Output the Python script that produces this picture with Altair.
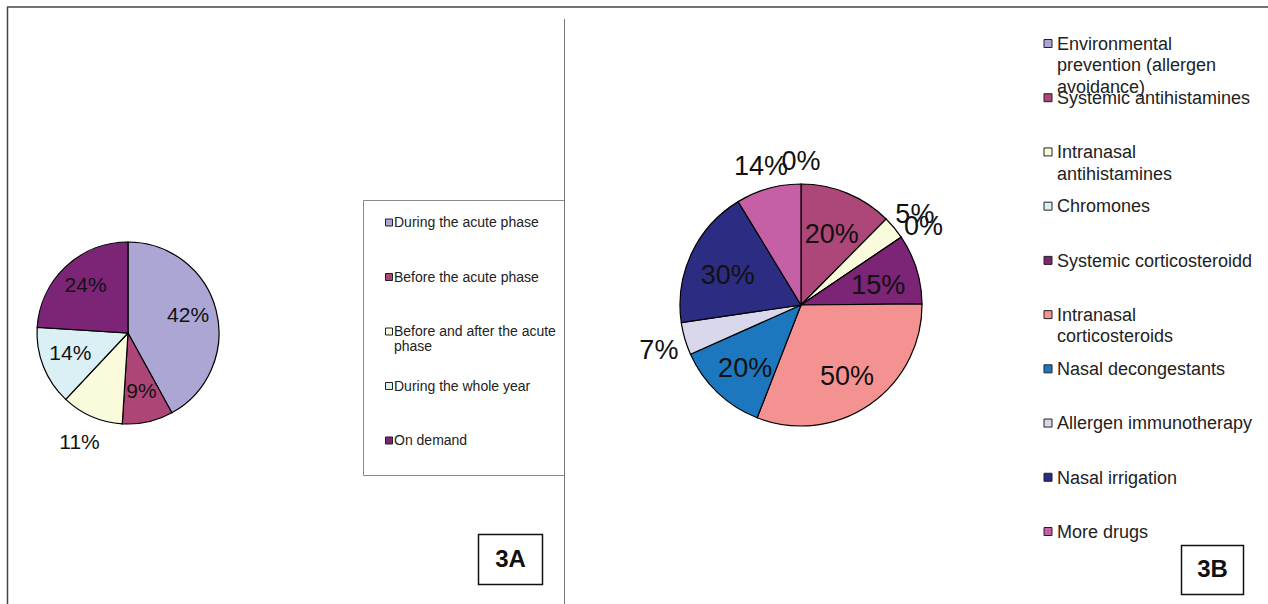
import altair as alt
import pandas as pd

# ---------------- data ----------------
cats_a = ["During the acute phase", "Before the acute phase",
          "Before and after the acute phase", "During the whole year", "On demand"]
legend_a = ["During the acute phase", "Before the acute phase",
            "Before and after the acute\nphase", "During the whole year", "On demand"]
vals_a = [42, 9, 11, 14, 24]
outside_a = [0, 0, 1, 0, 0]
colors_a = ["#ABA6D4", "#AE4577", "#FAFADC", "#DAF0F5", "#7C2475"]

cats_b = ["Environmental prevention (allergen avoidance)", "Systemic antihistamines",
          "Intranasal antihistamines", "Chromones", "Systemic corticosteroidd",
          "Intranasal corticosteroids", "Nasal decongestants", "Allergen immunotherapy",
          "Nasal irrigation", "More drugs"]
legend_b = ["Environmental\nprevention (allergen\navoidance)", "Systemic antihistamines",
            "Intranasal\nantihistamines", "Chromones", "Systemic corticosteroidd",
            "Intranasal\ncorticosteroids", "Nasal decongestants", "Allergen immunotherapy",
            "Nasal irrigation", "More drugs"]
vals_b = [0, 20, 5, 0, 15, 50, 20, 7, 30, 14]
outside_b = [1, 0, 1, 1, 0, 0, 0, 1, 0, 1]
colors_b = ["#ABA6D4", "#AD4779", "#FAFADC", "#DAF0F5", "#7C2475",
            "#F49292", "#1C77BF", "#D9D7EC", "#2C2D82", "#C660A6"]

FONT = "Liberation Sans"

df_a = pd.DataFrame({"cat": cats_a, "legend": legend_a, "value": vals_a,
                     "label": [f"{v}%" for v in vals_a], "outside": outside_a,
                     "row": list(range(len(cats_a)))})
df_b = pd.DataFrame({"cat": cats_b, "legend": legend_b, "value": vals_b,
                     "label": [f"{v}%" for v in vals_b], "outside": outside_b,
                     "row": list(range(len(cats_b)))})


def pie_group(df, cats, colors, cx, cy, r, r_in, r_out, fsize, lab_dy,
              sq_x, txt_x, row_range, sq_size, leg_font, leg_lh, leg_dy):
    color = alt.Color("cat:N", scale=alt.Scale(domain=cats, range=colors), legend=None)
    arcs = alt.Chart(df).mark_arc(radius=r, stroke="#000000", strokeWidth=1.2).encode(
        theta=alt.Theta("value:Q", stack=True), color=color, order=alt.Order("row:Q"),
        x=alt.value(cx), y=alt.value(cy))
    labels = alt.Chart(df).transform_window(
        cum="sum(value)", sort=[alt.SortField("row")]
    ).transform_joinaggregate(
        total="sum(value)"
    ).transform_calculate(
        ang="2 * PI * (datum.cum - datum.value / 2) / datum.total"
    ).mark_text(font=FONT, fontSize=fsize, color="#111111", dy=lab_dy,
                align="center", baseline="middle").encode(
        theta=alt.Theta("ang:Q", scale=None, stack=False),
        radius=alt.Radius("outside:Q", scale=alt.Scale(type="linear", domain=[0, 1],
                                                       range=[r_in, r_out], zero=False)),
        text="label:N", x=alt.value(cx), y=alt.value(cy))
    ypos = alt.Y("row:Q", scale=alt.Scale(domain=[0, len(cats) - 1], range=row_range),
                 axis=None)
    squares = alt.Chart(df).mark_square(size=sq_size, stroke="#222222", strokeWidth=1,
                                        opacity=1).encode(
        x=alt.value(sq_x), y=ypos, color=color)
    texts = alt.Chart(df).mark_text(font=FONT, fontSize=leg_font, color="#222222",
                                    align="left", baseline="alphabetic", dy=leg_dy,
                                    lineBreak="\n", lineHeight=leg_lh).encode(
        x=alt.value(txt_x), y=ypos, text="legend:N")
    return alt.layer(arcs, labels, squares, texts)


group_a = pie_group(df_a, cats_a, colors_a, 128, 333, 91, 62, 122, 21, -2,
                    389, 394, [222.5, 440.5], 49, 14, 15, 4.8)
group_b = pie_group(df_b, cats_b, colors_b, 801, 305, 121, 81, 148, 27, 5,
                    1048, 1057, [43.5, 531.5], 64, 18, 21.5, 6.3)

one = pd.DataFrame({"k": [0]})


def rule(x1, x2, y1, y2, color, width):
    return alt.Chart(one).mark_rule(color=color, strokeWidth=width).encode(
        x=alt.value(x1), x2=alt.value(x2), y=alt.value(y1), y2=alt.value(y2))


def box(x1, x2, y1, y2, color, width):
    return alt.Chart(one).mark_rect(fill="white", stroke=color, strokeWidth=width).encode(
        x=alt.value(x1), x2=alt.value(x2), y=alt.value(y1), y2=alt.value(y2))


def tag(txt, x, y):
    return alt.Chart(one).mark_text(font=FONT, fontSize=24, fontWeight="bold",
                                    color="#111111", align="center",
                                    baseline="middle").encode(
        x=alt.value(x), y=alt.value(y), text=alt.value(txt))


frame = [
    rule(7, 1268, 7, 7, "#444444", 1.5),
    rule(7.5, 7.5, 7, 604, "#444444", 1.5),
    box(363.5, 564.5, 200.5, 475.5, "#8a8a8a", 1),
    rule(564.5, 564.5, 19, 604, "#777777", 1),
    box(478.5, 542.5, 534.5, 584.5, "#111111", 1.5),
    box(1181.5, 1243.5, 545.5, 594.5, "#111111", 1.5),
    tag("3A", 510.5, 559.5),
    tag("3B", 1212.5, 570),
]

chart = alt.layer(*frame, group_a, group_b).resolve_scale(
    theta="independent", color="independent", radius="independent",
    y="independent", x="independent"
).properties(
    width=1268, height=604, padding=0,
    autosize=alt.AutoSizeParams(type="none"), background="white"
).configure_view(stroke=None)

chart.save("out.html", embed_options={"renderer": "svg", "actions": False})
